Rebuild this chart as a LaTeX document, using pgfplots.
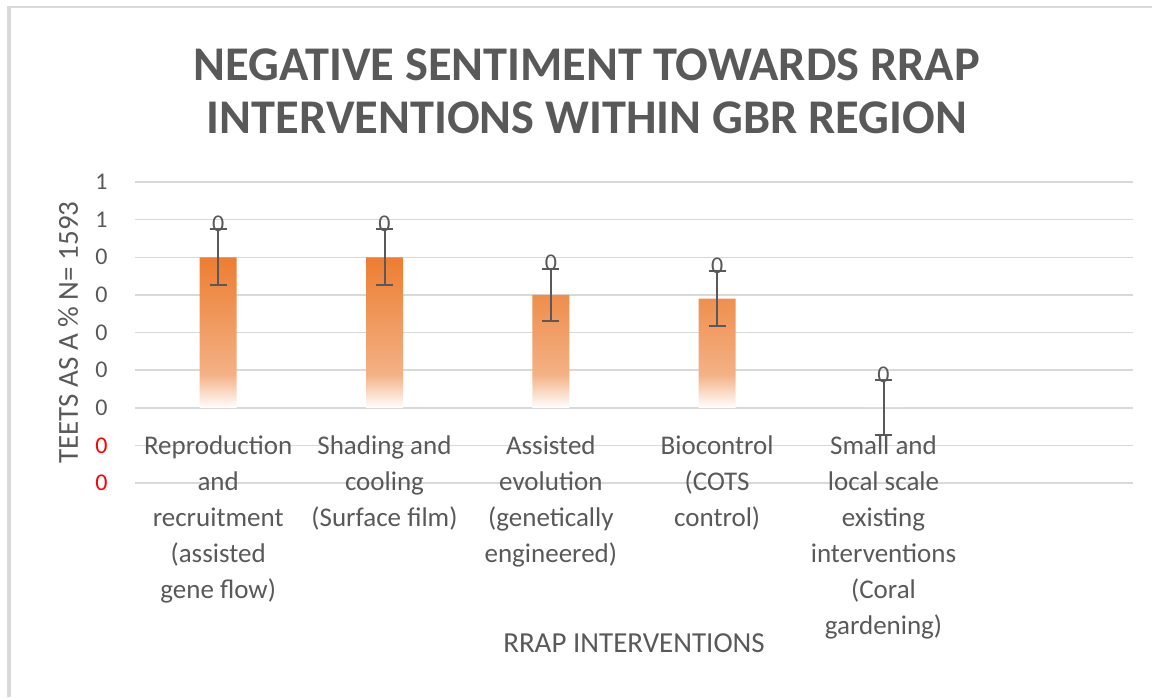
\documentclass[border=0pt]{standalone}
\usepackage{pgfplots}
\pgfplotsset{compat=1.18}
\usepackage{pgfplotstable}
\usepackage{fontspec}
\setmainfont{Carlito}
\definecolor{barorange}{HTML}{ED7D31}
\definecolor{barlight}{HTML}{F3B185}
\definecolor{txtgray}{HTML}{595959}
\definecolor{gridgray}{HTML}{D9D9D9}
\pgfdeclareverticalshading{barfade}{100bp}{color(0bp)=(white); color(25bp)=(white); color(36bp)=(barlight); color(75bp)=(barorange); color(100bp)=(barorange)}

\pgfplotstableread{
x y e
0 0.80 0.150
1 0.80 0.150
2 0.60 0.140
3 0.58 0.146
4 0.00 0.145
}\datatable

\begin{document}
\begin{tikzpicture}
\useasboundingbox (0pt,0pt) rectangle (576pt,-348.5pt);
\draw[gridgray, line width=2pt] (4.5pt,-348.5pt) -- (4.5pt,-2.8pt);
\draw[gridgray, line width=1.2pt] (3.5pt,-3.5pt) -- (576pt,-3.5pt);
\node[font=\fontsize{24.2}{26.5}\selectfont\bfseries, text=txtgray, align=center] at (293.5pt,-45.5pt)
  {NEGATIVE SENTIMENT TOWARDS RRAP\\INTERVENTIONS WITHIN GBR REGION};
\begin{axis}[
  at={(67.5pt,-241.5pt)}, anchor=south west,
  width=499pt, height=150.5pt, scale only axis,
  xmin=-0.5, xmax=5.5, ymin=-0.4, ymax=1.2,
  axis line style={draw=none},
  major tick length=0pt,
  ymajorgrids, grid style={gridgray, line width=0.75pt},
  ytick={-0.4,-0.2,0,0.2,0.4,0.6,0.8,1.0,1.2},
  yticklabels={{\color{red}0},{\color{red}0},0,0,0,0,0,1,1},
  yticklabel style={anchor=east, inner sep=0pt, xshift=-13.5pt, text=txtgray, font=\fontsize{12}{13}\selectfont},
  xtick={0,1,2,3,4},
  xticklabels={{Reproduction\\and\\recruitment\\(assisted\\gene flow)},
               {Shading and\\cooling\\(Surface film)},
               {Assisted\\evolution\\(genetically\\engineered)},
               {Biocontrol\\(COTS\\control)},
               {Small and\\local scale\\existing\\interventions\\(Coral\\gardening)}},
  xticklabel style={anchor=north, align=center, inner sep=0pt, yshift=24pt, text=txtgray, font=\fontsize{13.5}{18}\selectfont},
  ylabel={TEETS AS A \% N= 1593},
  ylabel style={at={(axis description cs:-0.067,0.5)}, anchor=center, text=txtgray, font=\fontsize{14.5}{16}\selectfont},
  xlabel={RRAP INTERVENTIONS},
  xlabel style={at={(axis description cs:0.5,-0.532)}, anchor=center, text=txtgray, font=\fontsize{14.5}{16}\selectfont},
  clip=false,
]
\addplot[ybar, bar width=18.5pt, draw=none, shading=barfade] table[x=x, y=y] {\datatable};
\addplot[draw=none, mark=none, forget plot,
  error bars/.cd, y dir=both, y explicit,
  error bar style={draw=txtgray, line width=1pt},
  error mark options={rotate=90, mark size=4.25pt, line width=1pt, draw=txtgray}]
  table[x=x, y=y, y error=e] {\datatable};
\addplot[draw=none, mark=none, forget plot,
  nodes near coords={0},
  nodes near coords style={anchor=south, inner sep=0pt, yshift=-1.5pt, text=txtgray, font=\fontsize{12}{14}\selectfont}]
  table[x=x, y expr=\thisrow{y}+\thisrow{e}] {\datatable};
\end{axis}
\end{tikzpicture}
\end{document}
